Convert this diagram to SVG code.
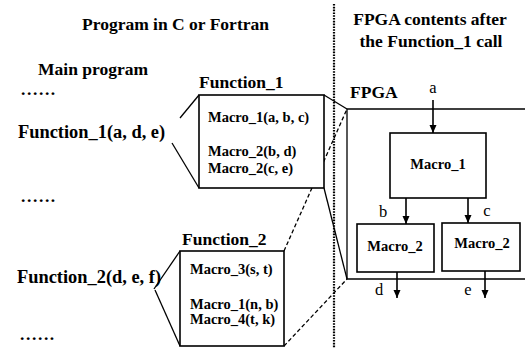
<svg xmlns="http://www.w3.org/2000/svg" width="525" height="348" viewBox="0 0 525 348" font-family="'Liberation Serif', 'Times New Roman', 'DejaVu Serif', serif">
<defs>
<style>
text{font-family:'Liberation Serif','Times New Roman','DejaVu Serif',serif;fill:#000}
.t{font-weight:bold;font-size:17.5px}
.f{font-weight:bold;font-size:18.4px}
.m{font-weight:bold;font-size:14.5px}
.l{font-size:16.5px}
.dots{font-weight:bold;font-size:17.5px;letter-spacing:1.6px}
.box{fill:#fff;stroke:#000;stroke-width:1.6}
.ln{stroke:#000;stroke-width:1.3;fill:none}
.dash{stroke:#000;stroke-width:1.3;fill:none;stroke-dasharray:4,2.5}
.arr{stroke:#000;stroke-width:1.6;fill:none;marker-end:url(#ah)}
</style>
<marker id="ah" viewBox="0 0 8 8" refX="8" refY="4" markerWidth="8" markerHeight="8" markerUnits="userSpaceOnUse" orient="auto">
<path d="M0,0.5 L8,4 L0,7.5 z" fill="#000"/>
</marker>
</defs>
<rect width="525" height="348" fill="#fff"/>

<g id="divider">
<line x1="334" y1="4" x2="334" y2="348" stroke="#000" stroke-width="2.2" stroke-dasharray="1.6,1.2"/>
</g>

<g id="titles">
<text class="t" x="82" y="30">Program in C or Fortran</text>
<text class="t" x="430" y="25" text-anchor="middle">FPGA contents after</text>
<text class="t" x="431" y="47" text-anchor="middle">the Function_1 call</text>
</g>

<g id="main-program">
<text class="t" x="38" y="75">Main program</text>
<text class="dots" x="21" y="95">......</text>
<text class="f" x="18" y="138">Function_1(a, d, e)</text>
<text class="dots" x="21" y="202">......</text>
<text class="f" x="17" y="283">Function_2(d, e, f)</text>
<text class="dots" x="20" y="340">......</text>
</g>

<g id="connectors">
<line class="ln" x1="180" y1="118" x2="199" y2="95"/>
<line class="ln" x1="172" y1="143" x2="199" y2="188"/>
<line class="ln" x1="154" y1="289" x2="180" y2="251"/>
<line class="ln" x1="155" y1="290" x2="180" y2="346"/>
<line class="ln" x1="324" y1="95" x2="347" y2="109"/>
<line class="ln" x1="324" y1="188" x2="347" y2="279"/>
<line class="dash" x1="284" y1="251" x2="347" y2="109"/>
<line class="dash" x1="284" y1="346" x2="347" y2="279"/>
</g>

<g id="function1">
<text class="t" x="199" y="88">Function_1</text>
<rect class="box" x="199" y="95" width="125" height="93"/>
<text class="m" x="208" y="122">Macro_1(a, b, c)</text>
<text class="m" x="208" y="156">Macro_2(b, d)</text>
<text class="m" x="208" y="173">Macro_2(c, e)</text>
</g>

<g id="function2">
<text class="t" x="182" y="245">Function_2</text>
<rect class="box" x="180" y="251" width="104" height="95"/>
<text class="m" x="190" y="274">Macro_3(s, t)</text>
<text class="m" x="190" y="309">Macro_1(n, b)</text>
<text class="m" x="190" y="324">Macro_4(t, k)</text>
</g>

<g id="fpga">
<text class="t" x="350" y="98">FPGA</text>
<path class="ln" d="M525,109 H347 V279 H525" stroke-width="1.6"/>
</g>

<g id="macro1">
<rect class="box" x="390" y="133" width="96" height="65"/>
<text class="m" x="438" y="169" text-anchor="middle">Macro_1</text>
</g>
<g id="macro2-left">
<rect class="box" x="357" y="224" width="77" height="48"/>
<text class="m" x="395" y="251" text-anchor="middle">Macro_2</text>
</g>
<g id="macro2-right">
<rect class="box" x="442" y="223" width="78" height="48"/>
<text class="m" x="482" y="248" text-anchor="middle">Macro_2</text>
</g>

<g id="arrows">
<line class="arr" x1="433" y1="100" x2="433" y2="133"/>
<line class="arr" x1="406" y1="198" x2="406" y2="224"/>
<line class="arr" x1="468" y1="198" x2="468" y2="223"/>
<line class="arr" x1="397" y1="272" x2="397" y2="298"/>
<line class="arr" x1="485" y1="271" x2="485" y2="298"/>
</g>

<g id="labels">
<text class="l" x="433" y="93" text-anchor="middle">a</text>
<text class="l" x="383" y="217" text-anchor="middle">b</text>
<text class="l" x="487" y="216" text-anchor="middle">c</text>
<text class="l" x="379" y="295" text-anchor="middle">d</text>
<text class="l" x="468" y="295" text-anchor="middle">e</text>
</g>
</svg>
